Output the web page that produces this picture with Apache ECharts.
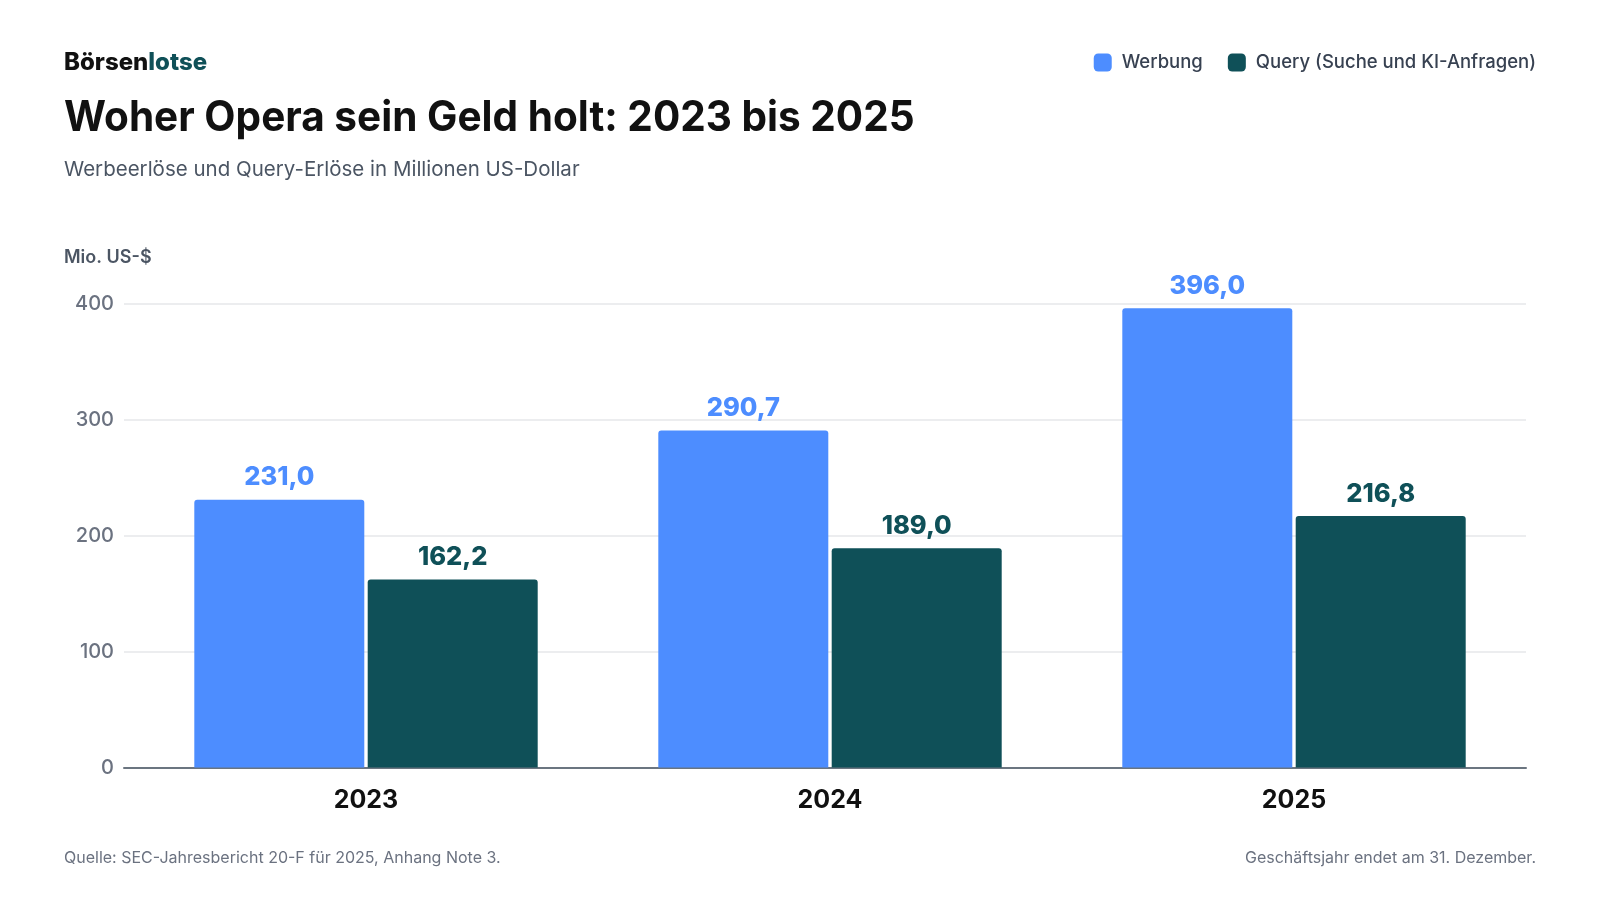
<!DOCTYPE html>
<html>
<head>
<meta charset="utf-8">
<script src="https://cdn.jsdelivr.net/npm/echarts@6/dist/echarts.min.js"></script>
<style>
html,body{margin:0;padding:0;background:#fff;}
#c{width:1600px;height:900px;}
</style>
</head>
<body>
<div id="c"></div>
<script>
const categories = ['2023', '2024', '2025'];
const werbung = [231.0, 290.7, 396.0];
const query = [162.2, 189.0, 216.8];
const seriesNames = ['Werbung', 'Query (Suche und KI-Anfragen)'];
const yTicks = [0, 100, 200, 300, 400];

const BLUE = '#4D8DFF';
const TEAL = '#0F5058';
const FONT = 'Inter, "Noto Sans", sans-serif';

const fmt = v => v.toFixed(1).replace('.', ',');

const chart = echarts.init(document.getElementById('c'), null, {renderer: 'canvas'});

const gridTop = 303.7, gridBottom = 132.5;

chart.setOption({
  backgroundColor: '#ffffff',
  animation: false,
  textStyle: {fontFamily: FONT},
  legend: {
    right: 59,
    top: 48,
    itemWidth: 18,
    itemHeight: 18,
    itemGap: 25,
    icon: 'roundRect',
    data: seriesNames,
    textStyle: {fontFamily: FONT, fontSize: 18.5, fontWeight: 500, color: '#374151', padding: [0, 0, 0, 5]}
  },
  grid: [
    {left: 124, right: 74, top: gridTop, bottom: gridBottom},
    {left: 134, right: 74, top: gridTop, bottom: gridBottom}
  ],
  xAxis: [
    {
      gridIndex: 0, type: 'category', data: [''],
      axisLine: {show: true, lineStyle: {color: '#6B7580', width: 2}},
      axisTick: {show: false}, axisLabel: {show: false}, splitLine: {show: false}
    },
    {
      gridIndex: 1, type: 'category', data: categories,
      axisLine: {show: false}, axisTick: {show: false},
      axisLabel: {margin: 20, fontFamily: FONT, fontSize: 25, fontWeight: 700, color: '#111111'}
    }
  ],
  yAxis: [
    {
      gridIndex: 0, type: 'value', min: 0, max: 400, interval: 100,
      axisLine: {show: false}, axisTick: {show: false},
      axisLabel: {margin: 10, fontFamily: FONT, fontSize: 20, fontWeight: 500, color: '#6B7280',
        formatter: v => yTicks.includes(v) ? String(v) : ''},
      splitLine: {show: true, lineStyle: {color: '#E6E7EA', width: 1.5}}
    },
    {
      gridIndex: 1, type: 'value', min: 0, max: 400, interval: 100,
      show: false, splitLine: {show: false}
    }
  ],
  series: [
    {
      name: seriesNames[0], type: 'bar', xAxisIndex: 1, yAxisIndex: 1,
      data: werbung, barWidth: 170, barGap: '2%',
      itemStyle: {color: BLUE, borderRadius: [3, 3, 0, 0]},
      label: {show: true, position: 'top', distance: 9, formatter: p => fmt(p.value),
        fontFamily: FONT, fontSize: 25.5, fontWeight: 800, color: BLUE}
    },
    {
      name: seriesNames[1], type: 'bar', xAxisIndex: 1, yAxisIndex: 1,
      data: query, barWidth: 170, barGap: '2%',
      itemStyle: {color: TEAL, borderRadius: [3, 3, 0, 0]},
      label: {show: true, position: 'top', distance: 9, formatter: p => fmt(p.value),
        fontFamily: FONT, fontSize: 25.5, fontWeight: 800, color: TEAL}
    }
  ],
  graphic: [
    {type: 'text', left: 64, top: 51, style: {
      text: '{a|Börsen}{b|lotse}',
      rich: {
        a: {fontFamily: FONT, fontSize: 24, fontWeight: 800, fill: '#111111'},
        b: {fontFamily: FONT, fontSize: 24, fontWeight: 800, fill: '#0F5058'}
      }
    }},
    {type: 'text', left: 64, top: 97, scaleX: 0.965, originX: 0, style: {
      text: 'Woher Opera sein Geld holt: 2023 bis 2025',
      fontFamily: FONT, fontSize: 42, fontWeight: 700, fill: '#111111'
    }},
    {type: 'text', left: 64, top: 159, style: {
      text: 'Werbeerlöse und Query-Erlöse in Millionen US-Dollar',
      fontFamily: FONT, fontSize: 20.5, fontWeight: 400, fill: '#4B5563'
    }},
    {type: 'text', left: 64, top: 249, style: {
      text: 'Mio. US-$',
      fontFamily: FONT, fontSize: 18, fontWeight: 600, fill: '#4B5563'
    }},
    {type: 'text', left: 64, top: 850, style: {
      text: 'Quelle: SEC-Jahresbericht 20-F für 2025, Anhang Note 3.',
      fontFamily: FONT, fontSize: 16, fontWeight: 400, fill: '#6B7280'
    }},
    {type: 'text', right: 64, top: 850, style: {
      text: 'Geschäftsjahr endet am 31. Dezember.',
      fontFamily: FONT, fontSize: 16, fontWeight: 400, fill: '#6B7280'
    }}
  ]
});
</script>
</body>
</html>
